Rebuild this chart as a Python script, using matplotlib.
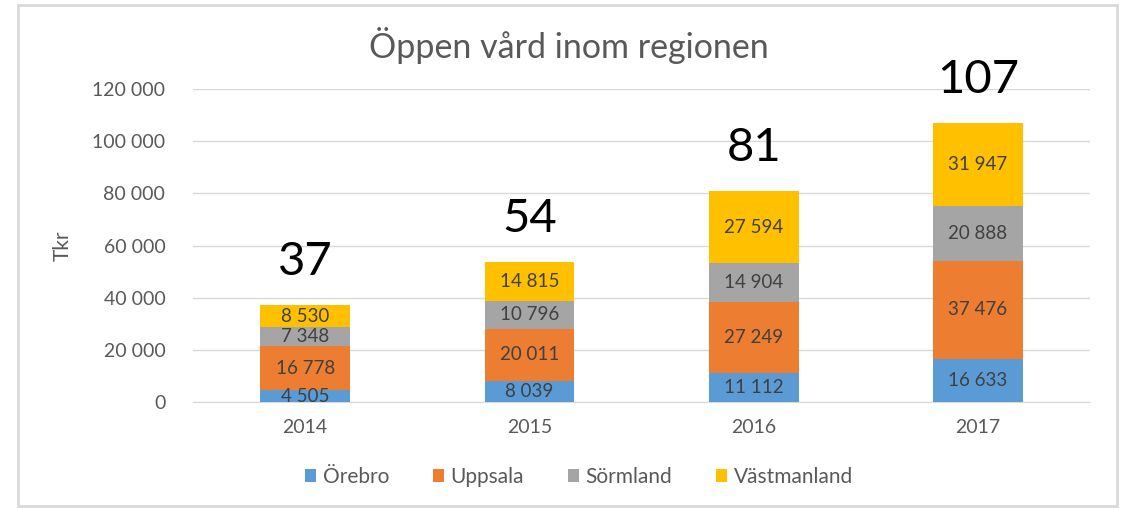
import numpy as np
import matplotlib.pyplot as plt
from matplotlib.patches import Rectangle

# Data (Tkr)
years = ['2014', '2015', '2016', '2017']
orebro = [4505, 8039, 11112, 16633]
uppsala = [16778, 20011, 27249, 37476]
sormland = [7348, 10796, 14904, 20888]
vastmanland = [8530, 14815, 27594, 31947]

series = [('Örebro', orebro, '#5B9BD5'),
          ('Uppsala', uppsala, '#ED7D31'),
          ('Sörmland', sormland, '#A5A5A5'),
          ('Västmanland', vastmanland, '#FFC000')]

plt.rcParams['font.family'] = ['Lato', 'DejaVu Sans']


def fmt(v):
    return f'{int(v):,}'.replace(',', ' ')


fig = plt.figure(figsize=(11.27, 5.08), dpi=100)
ax = fig.add_axes([0.1713, 0.2087, 0.796, 0.616])

# ram runt diagrammet
fig.patches.append(Rectangle((18 / 1127, 2 / 508), 1099 / 1127, 501 / 508,
                             transform=fig.transFigure, fill=False,
                             edgecolor='#D9D9D9', linewidth=2))

x = np.arange(len(years))
width = 0.40
bottom = np.zeros(len(years))
for name, vals, color in series:
    vals = np.array(vals)
    ax.bar(x, vals, width, bottom=bottom, color=color, label=name, zorder=3)
    for xi, b, v in zip(x, bottom, vals):
        ax.text(xi, b + v / 2, fmt(v), ha='center', va='center',
                fontsize=13.5, color='#404040', zorder=4)
    bottom += vals

# totalsumma i tusental ovanför staplarna
for xi, tot in zip(x, bottom):
    ax.text(xi, tot + 16500, f'{tot / 1000:.0f}', ha='center', va='center',
            fontsize=34, color='black', clip_on=False)

ax.set_xlim(-0.5, len(years) - 0.5)
ax.set_ylim(0, 120000)
ax.set_yticks(np.arange(0, 120001, 20000))
ax.set_yticklabels([fmt(t) for t in np.arange(0, 120001, 20000)])
ax.set_xticks(x)
ax.set_xticklabels(years)
ax.tick_params(length=0, labelsize=14, colors='#595959', pad=12)
ax.tick_params(axis='y', pad=20)
ax.grid(axis='y', color='#D9D9D9', linewidth=1, zorder=0)
for s in ['top', 'right', 'left']:
    ax.spines[s].set_visible(False)
ax.spines['bottom'].set_color('#D9D9D9')

ax.set_ylabel('Tkr', fontsize=15, color='#595959', labelpad=14)
fig.text(0.505, 0.91, 'Öppen vård inom regionen', ha='center', va='center',
         fontsize=24.5, color='#595959')

ax.legend(loc='upper center', bbox_to_anchor=(0.43, -0.148), ncol=4,
          frameon=False, fontsize=15, labelcolor='#595959',
          handlelength=0.55, handleheight=0.55, handletextpad=0.3,
          columnspacing=2.1)

fig.savefig('out.png', dpi=100)
